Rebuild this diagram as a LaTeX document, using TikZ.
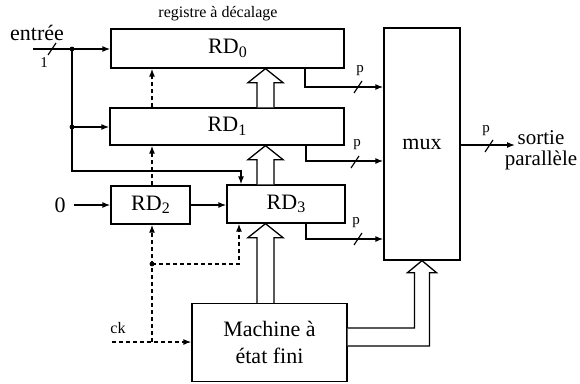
\documentclass[tikz,border=0pt]{standalone}
\usepackage{fontspec}
\setmainfont{Liberation Serif}
\usetikzlibrary{arrows.meta,calc}
\newcommand\RDsub[1]{RD\raisebox{-0.35ex}{\fontsize{16}{16}\selectfont #1}}
\newcommand\hollowup[2]{%
  \draw[hollow] let \p1=(#1), \p2=(#2) in
    (\x1-8.5pt,\y1) -- (\x1-8.5pt,\y2-14pt) -- (\x1-17.5pt,\y2-14pt) -- (\x1,\y2)
    -- (\x1+17.5pt,\y2-14pt) -- (\x1+8.5pt,\y2-14pt) -- (\x1+8.5pt,\y1);}
\begin{document}
\begin{tikzpicture}[x=1pt,y=-1pt,
  box/.style={draw, line width=1.3pt, inner sep=0pt, rectangle, font=\fontsize{22}{27}\selectfont, align=center},
  conn/.style={line width=1.3pt, -{Latex[length=8pt,width=6pt]}},
  clk/.style={conn, dash pattern=on 4pt off 3pt},
  hollow/.style={draw, line width=1.3pt, fill=white, line join=miter},
  slash/.style={line width=1.2pt},
  lbl/.style={font=\fontsize{15}{15}\selectfont, inner sep=0pt},
  txt/.style={font=\fontsize{22}{19}\selectfont, inner sep=0pt, align=center}]
\useasboundingbox (0,0) rectangle (580,383);
% boxes
\node[box, minimum width=233pt, minimum height=39pt] (rd0) at (227.5,48.5) {\RDsub{0}};
\node[box, minimum width=234pt, minimum height=37pt] (rd1) at (227,126.5) {\RDsub{1}};
\node[box, minimum width=79pt, minimum height=38pt] (rd2) at (150.5,205) {\RDsub{2}};
\node[box, minimum width=118pt, minimum height=38pt] (rd3) at (286,204) {\RDsub{3}};
\node[box, minimum width=76pt, minimum height=232pt] (mux) at (422,144) {mux};
\node[box, minimum width=155pt, minimum height=78pt] (fsm) at (269.5,342.5) {Machine à\\état fini};
% texts
\node[txt] (entree) at (37,33) {entrée};
\node[txt, font=\fontsize{16}{16}\selectfont] (reg) at (218,14) {registre à décalage};
\node[txt] (zero) at (60,205) {0};
\node[txt, font=\fontsize{16}{16}\selectfont] (ck) at (118,328) {ck};
\node[txt, font=\fontsize{21}{21}\selectfont] (sortie) at (541,150) {sortie\\parallèle};
% coordinates
\coordinate (inL) at (33,49);
\coordinate (j1) at (72,49);
\coordinate (j2) at (72,127);
\coordinate (c1) at (241,171);
\coordinate (o0) at (305,87);
\coordinate (o1) at (306,161);
\coordinate (o3) at (306,239);
\coordinate (outE) at (515,145);
\coordinate (ckL) at (112,342);
\coordinate (k1) at (152,342);
\coordinate (k2) at (152,264);
\coordinate (k3) at (239,264);
\coordinate (ax) at (265.5,0);
% data connectors
\draw[conn] (inL) -- (inL -| rd0.west);
\draw[conn] (j1) |- (c1) -- (c1 |- rd3.north);
\draw[conn] (j2) -- (j2 -| rd1.west);
\fill (j1) circle (2.4pt);
\fill (j2) circle (2.4pt);
\draw[conn] ($(zero.east)+(8,0)$) -- (rd2.west);
\draw[conn] (rd2.east) -- (rd3.west |- rd2.east);
\draw[conn] (rd0.south -| o0) |- (mux.west |- o0);
\draw[conn] (rd1.south -| o1) |- (mux.west |- o1);
\draw[conn] (rd3.south -| o3) |- (mux.west |- o3);
\draw[conn] (mux.east |- outE) -- (outE);
% clock connectors
\draw[clk] (ckL) -- (ckL -| fsm.west);
\draw[clk] (k1) -- (k1 |- rd2.south);
\draw[clk] (k2) -| (k3) -- (k3 |- rd3.south);
\fill (k2) circle (2.4pt);
\draw[clk] (rd2.north -| k1) -- (rd1.south -| k1);
\draw[clk] (rd1.north -| k1) -- (rd0.south -| k1);
% hollow bus arrows
\hollowup{rd1.north -| ax}{rd0.south}
\hollowup{rd3.north -| ax}{rd1.south}
\hollowup{fsm.north -| ax}{rd3.south}
\draw[hollow] let \p1=(fsm.east), \p2=(mux.south) in
  (\x1,\y1+14.5pt) -- (\x2-7.5pt,\y1+14.5pt) -- (\x2-7.5pt,\y2-12pt) -- (\x2-14.5pt,\y2-12pt)
  -- (\x2,\y2) -- (\x2+14.5pt,\y2-12pt) -- (\x2+7.5pt,\y2-12pt) -- (\x2+7.5pt,\y1-3.5pt) -- (\x1,\y1-3.5pt);
% bus width marks
\foreach \sx/\sy/\lx/\ly/\t in {52/49/44/63/1, 358/87/360/71/p, 355/162/357/145/p, 358/239/356/223/p, 489/146/486/131/p}{
  \draw[slash] (\sx-4,\sy+6) -- (\sx+4,\sy-6);
  \node[lbl] at (\lx,\ly) {\t};
}
\end{tikzpicture}
\end{document}
